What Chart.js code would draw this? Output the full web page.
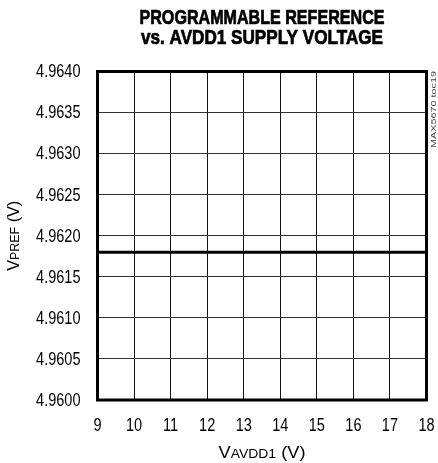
<!DOCTYPE html>
<html>
<head>
<meta charset="utf-8">
<script src="https://cdn.jsdelivr.net/npm/chart.js@4.4.1/dist/chart.umd.min.js"></script>
<style>
  html, body { margin: 0; padding: 0; background: #fff; }
  #wrap { width: 438px; height: 463px; position: relative; }
</style>
</head>
<body>
<div id="wrap"><canvas id="c" width="438" height="463"></canvas></div>
<script>
/* data */
var supplyVolts = [9, 10, 11, 12, 13, 14, 15, 16, 17, 18];
var vpref       = [4.9618, 4.9618, 4.9618, 4.9618, 4.9618, 4.9618, 4.9618, 4.9618, 4.9618, 4.9618];
var xTicks      = [9, 10, 11, 12, 13, 14, 15, 16, 17, 18];
var yTicks      = [4.9600, 4.9605, 4.9610, 4.9615, 4.9620, 4.9625, 4.9630, 4.9635, 4.9640];

var titleLines = ['PROGRAMMABLE REFERENCE', 'vs. AVDD1 SUPPLY VOLTAGE'];
var FONT = '"Liberation Sans", Arial, sans-serif';
var SQUEEZE = 0.83;   // fake a narrow face

// draw text squeezed horizontally; align = 'left' | 'center' | 'right'
function narrowText(ctx, txt, x, y, font, align, sx, heavy) {
  ctx.save();
  ctx.font = font;
  ctx.textAlign = align;
  ctx.translate(x, y);
  ctx.scale(sx, 1);
  ctx.fillText(txt, 0, 0);
  if (heavy) {
    ctx.lineWidth = heavy;
    ctx.strokeStyle = ctx.fillStyle;
    ctx.strokeText(txt, 0, 0);
  }
  ctx.restore();
}

// main + smaller "subscript" run + tail, centred at (cx, base), fit into width w
function drawSub(ctx, main, sub, tail, cx, base, w) {
  var big = '17px ' + FONT, small = '13px ' + FONT;
  ctx.font = big;   var w1 = ctx.measureText(main).width;
  ctx.font = small; var w2 = ctx.measureText(sub).width;
  ctx.font = big;   var w3 = ctx.measureText(tail).width;
  var sx = w / (w1 + w2 + w3);
  ctx.save();
  ctx.translate(cx - w / 2, base);
  ctx.scale(sx, 1);
  ctx.textAlign = 'left';
  ctx.textBaseline = 'alphabetic';
  ctx.font = big;   ctx.fillText(main, 0, 0);
  ctx.font = small; ctx.fillText(sub, w1, 0);
  ctx.font = big;   ctx.fillText(tail, w1 + w2, 0);
  ctx.restore();
}

var decor = {
  id: 'decor',
  afterDraw: function(chart) {
    var ctx = chart.ctx, a = chart.chartArea;
    var cx = (a.left + a.right) / 2;
    var xs = chart.scales.x, ys = chart.scales.y;
    ctx.save();

    ctx.strokeStyle = '#000';
    ctx.lineWidth = 3;
    ctx.strokeRect(a.left, a.top, a.right - a.left, a.bottom - a.top);

    ctx.fillStyle = '#000';
    ctx.textBaseline = 'middle';

    // titles, fitted to the measured widths
    var hf = 'bold 19.5px ' + FONT;
    ctx.font = hf;
    var t0 = ctx.measureText(titleLines[0]).width;
    var t1 = ctx.measureText(titleLines[1]).width;
    narrowText(ctx, titleLines[0], cx, 19, hf, 'center', 245 / t0, 0.7);
    narrowText(ctx, titleLines[1], cx, 39, hf, 'center', 242 / t1, 0.7);

    // tick labels at the scales' own positions
    var tf = '17.5px ' + FONT;
    xs.ticks.forEach(function(t) {
      narrowText(ctx, String(t.value), xs.getPixelForValue(t.value), 426, tf, 'center', SQUEEZE);
    });
    ys.ticks.forEach(function(t) {
      narrowText(ctx, Number(t.value).toFixed(4), a.left - 17, ys.getPixelForValue(t.value) + 1, tf, 'right', SQUEEZE);
    });

    // axis titles
    drawSub(ctx, 'V', 'AVDD1', ' (V)', cx, 458, 87);
    ctx.save();
    ctx.translate(19, (a.top + a.bottom) / 2);
    ctx.rotate(-Math.PI / 2);
    drawSub(ctx, 'V', 'PREF', ' (V)', 0, 0, 70);
    ctx.restore();

    // side tag
    ctx.save();
    ctx.translate(a.right + 8, a.top + 38);
    ctx.rotate(-Math.PI / 2);
    ctx.fillStyle = '#444';
    ctx.font = '7px ' + FONT;
    var tw = ctx.measureText('MAX5670 toc19').width;
    narrowText(ctx, 'MAX5670 toc19', 0, 0, '7px ' + FONT, 'center', 77 / tw);
    ctx.restore();

    ctx.restore();
  }
};

new Chart(document.getElementById('c'), {
  type: 'line',
  data: {
    labels: supplyVolts,
    datasets: [{
      data: supplyVolts.map(function(v, i) { return { x: v, y: vpref[i] }; }),
      borderColor: '#000',
      borderWidth: 3,
      pointRadius: 0,
      tension: 0
    }]
  },
  options: {
    responsive: false,
    animation: false,
    layout: { padding: { left: 0, top: 71.5, right: 11.5, bottom: 0 } },
    plugins: { legend: { display: false }, tooltip: { enabled: false } },
    scales: {
      x: {
        type: 'linear',
        min: 9, max: 18,
        afterFit: function(s) { s.height = 63; s.paddingLeft = 0; s.paddingRight = 0; },
        afterBuildTicks: function(s) { s.ticks = xTicks.map(function(v) { return { value: v }; }); },
        grid: { color: '#111', lineWidth: 1, drawTicks: false },
        border: { display: false },
        ticks: { display: false }
      },
      y: {
        type: 'linear',
        min: 4.9600, max: 4.9640,
        afterFit: function(s) { s.width = 97.5; s.paddingTop = 0; s.paddingBottom = 0; },
        afterBuildTicks: function(s) { s.ticks = yTicks.map(function(v) { return { value: v }; }); },
        grid: { color: '#333', lineWidth: 1, drawTicks: false },
        border: { display: false },
        ticks: { display: false }
      }
    }
  },
  plugins: [decor]
});
</script>
</body>
</html>
